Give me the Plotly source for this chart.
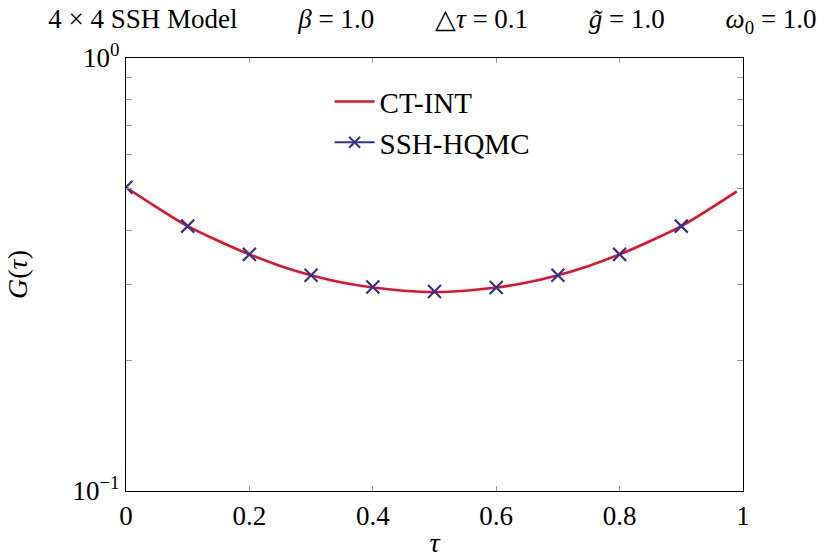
import plotly.graph_objects as go

# Data
tau_ctint = [0.0, 0.05, 0.1, 0.15, 0.2, 0.25, 0.3, 0.35, 0.4, 0.45, 0.5,
             0.55, 0.6, 0.65, 0.7, 0.75, 0.8, 0.85, 0.9, 0.95, 0.99]
g_ctint = [0.503, 0.452, 0.409, 0.378, 0.352, 0.331, 0.315, 0.303, 0.295, 0.290, 0.288,
           0.290, 0.295, 0.303, 0.315, 0.331, 0.352, 0.378, 0.409, 0.452, 0.492]

tau_hqmc = [0.0, 0.1, 0.2, 0.3, 0.4, 0.5, 0.6, 0.7, 0.8, 0.9]
g_hqmc = [0.503, 0.409, 0.352, 0.315, 0.296, 0.289, 0.295, 0.315, 0.352, 0.409]

x_ticks = [0, 0.2, 0.4, 0.6, 0.8, 1]
x_ticktext = ["0", "0.2", "0.4", "0.6", "0.8", "1"]
y_ticks = [0.1, 1.0]
y_ticktext = ["10<sup>−1</sup>", "10<sup>0</sup>"]
y_minor = [0.2, 0.3, 0.4, 0.5, 0.6, 0.7, 0.8, 0.9]

RED = "#e3132b"
BLUE = "#35338c"
FONT = "Liberation Serif"
SP = "&nbsp;" * 9

fig = go.Figure()
fig.add_trace(go.Scatter(
    x=tau_ctint, y=g_ctint, mode="lines", name="CT-INT",
    line=dict(color=RED, width=2.6, shape="spline"),
))
fig.add_trace(go.Scatter(
    x=tau_hqmc, y=g_hqmc, mode="markers", name="SSH-HQMC", showlegend=False,
    marker=dict(symbol="x-thin", size=13, line=dict(color=BLUE, width=2.2), color=BLUE),
))
fig.add_trace(go.Scatter(
    x=[None], y=[None], mode="lines+markers", name="SSH-HQMC",
    line=dict(color=BLUE, width=2),
    marker=dict(symbol="x-thin", size=11, line=dict(color=BLUE, width=2), color=BLUE),
))

fig.update_layout(
    width=830, height=558,
    margin=dict(l=126, r=87, t=58, b=67),
    paper_bgcolor="white", plot_bgcolor="white",
    font=dict(family=FONT, size=27, color="black"),
    title=dict(
        text=("4 × 4 SSH Model" + SP + "<i>β</i> = 1.0" + SP + "△<i>τ</i> = 0.1" + SP
              + "<i>g̃</i> = 1.0" + SP + "<i>ω</i><sub>0</sub> = 1.0"),
        x=0.521, xanchor="center", y=0.966, yanchor="middle",
        font=dict(family=FONT, size=27),
    ),
    showlegend=True,
    legend=dict(
        x=0.33, y=0.958, xanchor="left", yanchor="top",
        bgcolor="rgba(0,0,0,0)", font=dict(family=FONT, size=29),
        itemwidth=40, tracegroupgap=0,
    ),
    xaxis=dict(
        range=[0, 1], tickvals=x_ticks, ticktext=x_ticktext,
        showline=True, linecolor="black", linewidth=1.2, mirror="ticks",
        ticks="inside", ticklen=5, tickcolor="#999999",
        showgrid=False, zeroline=False, automargin=False,
        title=dict(text="<i>τ</i>", standoff=4, font=dict(size=28)),
        tickfont=dict(size=27),
    ),
    yaxis=dict(
        type="log", range=[-1, 0], tickvals=y_ticks, ticktext=y_ticktext,
        showline=True, linecolor="black", linewidth=1.2, mirror="ticks",
        ticks="inside", ticklen=5, tickcolor="#999999",
        minor=dict(tickvals=y_minor, ticks="inside", ticklen=6, tickcolor="#999999"),
        showgrid=False, zeroline=False, automargin=False,
        title=dict(text="<i>G</i>(<i>τ</i>)", standoff=36, font=dict(size=28)),
        tickfont=dict(size=27),
    ),
)

fig.write_html("out.html")
